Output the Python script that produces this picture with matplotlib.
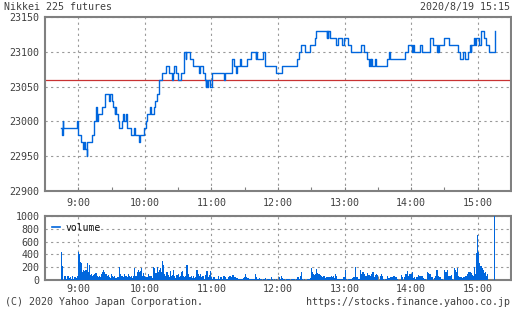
import matplotlib
matplotlib.use("Agg")
import matplotlib.pyplot as plt
import numpy as np

# price ticks: minutes after 9:00, price
tick_min = [-15.3, -14.5, -14.2, -13.8, -1.0, -0.4, 0.0, 2.4, 4.5, 5.3, 5.8, 7.5, 8.1,
            12.5, 14.3, 16.1, 16.8, 18.0, 21.8, 23.9, 27.8, 28.4, 30.4, 31.6, 32.8, 33.3,
            34.3, 35.8, 36.7, 39.7, 40.3, 40.9, 42.7, 43.5, 44.2, 47.8, 49.9, 50.7, 54.3,
            55.2, 59.1, 61.2, 61.8, 64.5, 65.5, 68.1, 69.2, 70.7, 73.1, 75.8, 78.8, 82.1,
            84.2, 85.7, 86.3, 88.1, 90.2, 92.3, 95.4, 96.8, 97.5, 100.8, 103.8, 109.2,
            109.7, 112.8, 114.3, 115.0, 115.5, 116.0, 116.5, 118.8, 120.3, 131.7, 132.3,
            138.4, 140.5, 142.3, 143.0, 145.9, 146.5, 151.9, 155.5, 160.0, 160.6, 161.2,
            166.8, 168.4, 178.4, 183.5, 197.0, 198.6, 201.0, 204.0, 209.0, 213.0, 214.2,
            224.0, 224.5, 225.0, 225.5, 226.5, 232.6, 234.0, 237.7, 239.2, 243.0, 246.0,
            254.5, 257.5, 260.2, 262.3, 262.8, 263.5, 264.0, 264.5, 267.0, 268.5, 278.3,
            280.4, 281.2, 294.9, 297.0, 300.9, 301.4, 302.4, 307.8, 309.9, 317.4, 319.5,
            323.5, 324.0, 324.5, 325.0, 330.0, 334.0, 342.0, 343.9, 346.3, 348.4, 351.4,
            352.9, 353.5, 354.0, 357.1, 357.6, 358.2, 361.0, 363.1, 365.6, 367.1, 370.0,
            375.4, 375.5]
tick_px = [22990, 22980, 23000, 22990, 23000, 22990, 22980, 22970, 22960, 22970, 22960, 22950, 22970,
           22980, 23000, 23020, 23000, 23010, 23020, 23040, 23030, 23040, 23030, 23020, 23010, 23020,
           23010, 23000, 22990, 23000, 23010, 23000, 23010, 23000, 22990, 22980, 22990, 22980, 22970,
           22980, 22990, 23000, 23010, 23020, 23010, 23020, 23030, 23040, 23060, 23070, 23080, 23070,
           23060, 23070, 23080, 23070, 23060, 23070, 23100, 23090, 23100, 23090, 23080, 23070,
           23080, 23070, 23060, 23050, 23060, 23050, 23060, 23050, 23070, 23060, 23070,
           23090, 23080, 23070, 23080, 23090, 23080, 23090, 23100, 23090, 23100, 23090,
           23100, 23080, 23070, 23080, 23090, 23100, 23110, 23100, 23110, 23120, 23130,
           23120, 23130, 23120, 23130, 23120, 23110, 23120, 23110, 23120, 23110, 23100,
           23110, 23100, 23090, 23080, 23090, 23080, 23090, 23080, 23090, 23080, 23090,
           23100, 23090, 23100, 23110, 23100, 23110, 23100, 23110, 23100, 23120, 23110,
           23100, 23110, 23100, 23110, 23120, 23110, 23100, 23090, 23100, 23090, 23100,
           23110, 23100, 23110, 23120, 23110, 23120, 23110, 23130, 23120, 23110, 23100,
           23100, 23130]

prev_close = 23060

# volume per minute from 8:45 (rows of 15 minutes)
volume = [
    430, 220, 0, 60, 20, 60, 60, 30, 50, 10, 60, 20, 50, 30, 60,
    440, 400, 280, 270, 130, 150, 140, 160, 260, 120, 240, 80, 90, 60, 80,
    90, 110, 70, 40, 60, 50, 90, 130, 150, 130, 100, 60, 80, 50, 30,
    90, 60, 40, 60, 30, 50, 40, 200, 100, 60, 70, 40, 90, 60, 50,
    90, 60, 50, 60, 30, 60, 180, 70, 130, 150, 120, 140, 180, 70, 110,
    60, 40, 50, 100, 70, 60, 60, 30, 200, 180, 110, 200, 130, 150, 190,
    130, 290, 240, 100, 60, 130, 80, 40, 140, 60, 80, 150, 60, 30, 80,
    90, 40, 60, 130, 140, 70, 40, 60, 240, 100, 50, 40, 60, 30, 70,
    30, 50, 150, 100, 60, 100, 50, 70, 70, 20, 80, 140, 40, 80, 140,
    50, 20, 50, 40, 10, 10, 70, 20, 40, 50, 20, 70, 60, 40, 20,
    40, 70, 60, 50, 80, 80, 50, 40, 30, 20, 20, 15, 10, 20, 30,
    40, 95, 50, 30, 20, 10, 10, 10, 10, 10, 90, 40, 20, 30, 20,
    20, 0, 10, 15, 30, 0, 10, 20, 0, 50, 15, 0, 10, 0, 15,
    0, 50, 20, 60, 30, 10, 20, 0, 10, 10, 20, 0, 20, 20, 10,
    10, 0, 10, 50, 20, 60, 130, 10, 0, 10, 0, 0, 10, 20, 30,
    190, 130, 100, 80, 100, 170, 110, 100, 80, 70, 50, 60, 60, 30, 50,
    40, 50, 50, 60, 40, 60, 30, 100, 60, 20, 10, 10, 20, 10, 50,
    50, 160, 10, 0, 10, 10, 20, 30, 40, 50, 210, 50, 50, 20, 160,
    100, 120, 130, 100, 60, 70, 110, 80, 60, 100, 120, 130, 50, 80, 90,
    80, 0, 70, 100, 60, 20, 0, 20, 10, 70, 30, 40, 40, 40, 60,
    60, 40, 40, 20, 0, 0, 80, 40, 0, 50, 100, 100, 140, 60, 100,
    100, 130, 30, 50, 20, 50, 40, 80, 70, 60, 70, 30, 20, 10, 0,
    130, 110, 100, 50, 40, 0, 30, 70, 150, 160, 60, 40, 20, 10, 0,
    160, 120, 130, 160, 70, 70, 80, 20, 0, 180, 150, 120, 180, 60, 50,
    50, 30, 40, 50, 60, 70, 100, 120, 130, 110, 80, 60, 210, 100, 420,
    700, 440, 260, 220, 180, 160, 110, 130, 60, 95, 0, 0, 0, 0, 0,
    1000,
]
vol_min = np.arange(-15, -15 + len(volume))

hour_pos = [0, 60, 120, 180, 240, 300, 360]
hour_labels = ["9:00", "10:00", "11:00", "12:00", "13:00", "14:00", "15:00"]
half_pos = [30, 90, 150, 210, 270, 330]

blue = "#0066dd"
grey_txt = "#404040"
plt.rcParams["font.family"] = ["DejaVu Sans Mono"]
plt.rcParams["font.size"] = 7

fig = plt.figure(figsize=(5.12, 3.10), dpi=100)
ax = fig.add_axes([45 / 512, 1 - 191 / 310, 466 / 512, 174 / 310])
axv = fig.add_axes([45 / 512, 1 - 280 / 310, 466 / 512, 64 / 310])

grid_kw = dict(color="#999999", linestyle=(0, (2, 3)), linewidth=0.8)

ax.step(tick_min, tick_px, where="post", color=blue, linewidth=1.0, zorder=3)
ax.axhline(prev_close, color="#c83232", linewidth=0.9, zorder=2)
ax.set_xlim(-30, 390)
ax.set_ylim(22900, 23150)
ax.set_yticks([22900, 22950, 23000, 23050, 23100, 23150])
ax.set_xticks(hour_pos)
ax.set_xticks(half_pos, minor=True)
ax.set_xticklabels(hour_labels)
ax.grid(True, which="major", **grid_kw)

axv.bar(vol_min, volume, width=1.0, color=blue, linewidth=0, zorder=3)
axv.set_xlim(-30, 390)
axv.set_ylim(0, 1000)
axv.set_yticks([0, 200, 400, 600, 800, 1000])
axv.set_xticks(hour_pos)
axv.set_xticks(half_pos, minor=True)
axv.set_xticklabels(hour_labels)
axv.grid(True, which="major", **grid_kw)
axv.plot([], [], color=blue, linewidth=1.2, label="volume")
axv.legend(loc="upper left", frameon=False, handlelength=0.8, handletextpad=0.6,
           borderaxespad=0.3, fontsize=7, labelcolor="#111111")

for a in (ax, axv):
    for s in a.spines.values():
        s.set_color("#808080")
        s.set_linewidth(1.5)
    a.tick_params(axis="x", which="both", direction="in", length=3, width=0.8,
                  color="#808080", labelcolor=grey_txt, pad=5, labelsize=7.2)
    a.tick_params(axis="y", which="both", length=0, labelcolor=grey_txt, pad=4, labelsize=7.2)
    a.set_axisbelow(True)
axv.tick_params(axis="x", pad=3)

fig.text(4 / 512, 1 - 7 / 310, "Nikkei 225 futures", ha="left", va="center", color=grey_txt, fontsize=7.2)
fig.text(510 / 512, 1 - 7 / 310, "2020/8/19 15:15", ha="right", va="center", color=grey_txt, fontsize=7.2)
fig.text(5 / 512, 1 - 302 / 310, "(C) 2020 Yahoo Japan Corporation.", ha="left", va="center",
         color=grey_txt, fontsize=7.2)
fig.text(510 / 512, 1 - 302 / 310, "https://stocks.finance.yahoo.co.jp", ha="right", va="center",
         color=grey_txt, fontsize=7.2)

fig.savefig("out.png", dpi=100)
